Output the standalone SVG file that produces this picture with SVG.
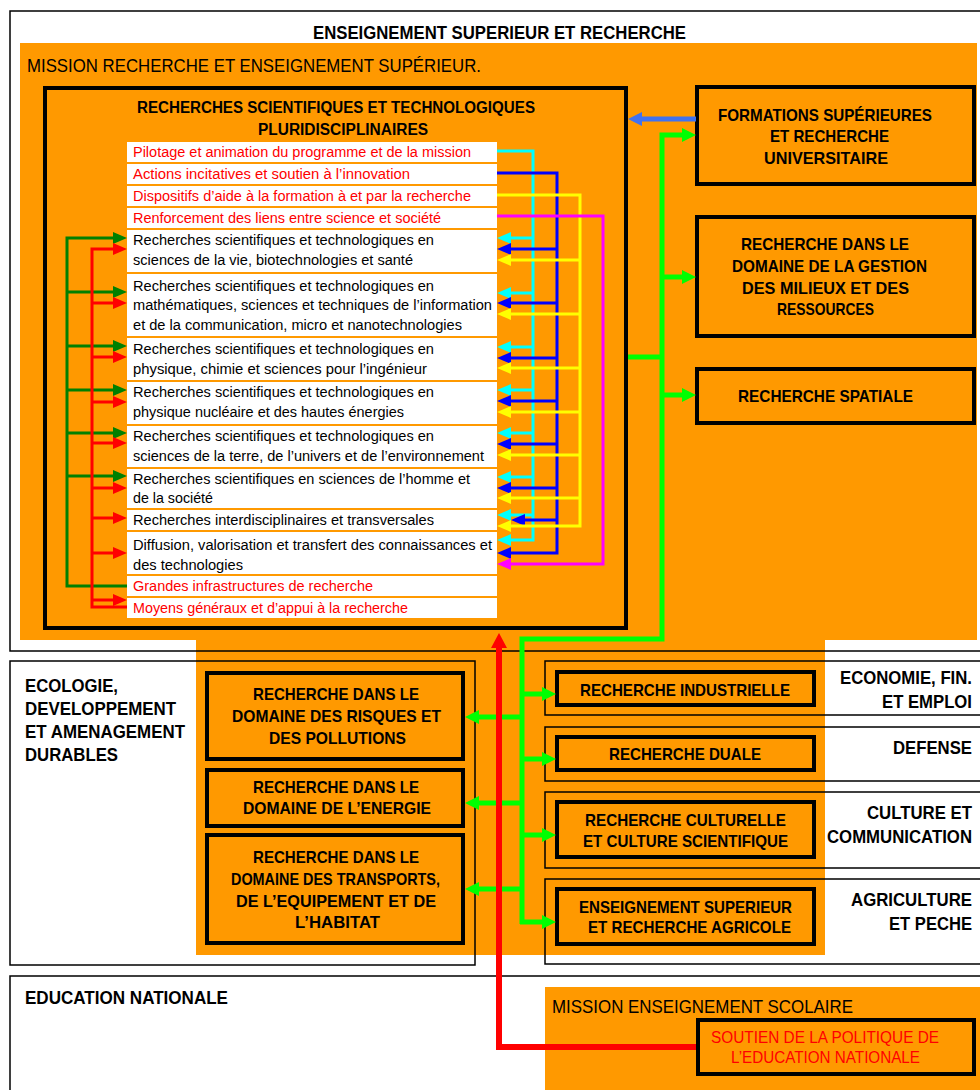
<svg xmlns="http://www.w3.org/2000/svg" width="980" height="1090" viewBox="0 0 980 1090">
  <style>
    text { font-family: "Liberation Sans", Arial, sans-serif; fill: #000; }
    .b { font-weight: bold; }
    .h1 { font-size: 18px; }
    .h2 { font-size: 19px; }
    .side { font-size: 17.5px; font-weight: bold; text-anchor: end; }
    .lbl { font-size: 17px; font-weight: bold; }
    .row-t { font-size: 14px; }
    .red { fill: #FF0000; }
    .orange { fill: #FF9900; }
    .row { fill: #FFFFFF; }
    .sec { fill: none; stroke: #000; stroke-width: 1.5; }
    .box { fill: none; stroke: #000; stroke-width: 4; }
    .c-cyan { fill: none; stroke: #00FFFF; stroke-width: 3; marker-end: url(#ah-cyan); }
    .c-blue { fill: none; stroke: #0000FF; stroke-width: 3; marker-end: url(#ah-blue); }
    .c-yel { fill: none; stroke: #FFFF00; stroke-width: 3; marker-end: url(#ah-yel); }
    .c-mag { fill: none; stroke: #FF00FF; stroke-width: 3; marker-end: url(#ah-mag); }
    .c-dg { fill: none; stroke: #008000; stroke-width: 3; marker-end: url(#ah-dg); }
    .c-red { fill: none; stroke: #FF0000; stroke-width: 3; marker-end: url(#ah-red); }
    .c-lime { fill: none; stroke: #00FF00; stroke-width: 5; marker-end: url(#ah-lime); }
    .c-lime-plain { fill: none; stroke: #00FF00; stroke-width: 5; }
    .c-royal { fill: none; stroke: #4172F0; stroke-width: 5; marker-end: url(#ah-royal); }
    .c-redbig { fill: none; stroke: #FF0000; stroke-width: 6; marker-end: url(#ah-redbig); }
  </style>
  <defs>
    <marker id="ah-cyan" viewBox="0 0 14 12" refX="0" refY="6" markerWidth="14" markerHeight="12" markerUnits="userSpaceOnUse" orient="auto"><path d="M0,0 L14,6 L0,12 z" fill="#00FFFF"/></marker>
    <marker id="ah-blue" viewBox="0 0 14 12" refX="0" refY="6" markerWidth="14" markerHeight="12" markerUnits="userSpaceOnUse" orient="auto"><path d="M0,0 L14,6 L0,12 z" fill="#0000FF"/></marker>
    <marker id="ah-yel" viewBox="0 0 14 12" refX="0" refY="6" markerWidth="14" markerHeight="12" markerUnits="userSpaceOnUse" orient="auto"><path d="M0,0 L14,6 L0,12 z" fill="#FFFF00"/></marker>
    <marker id="ah-mag" viewBox="0 0 14 12" refX="0" refY="6" markerWidth="14" markerHeight="12" markerUnits="userSpaceOnUse" orient="auto"><path d="M0,0 L14,6 L0,12 z" fill="#FF00FF"/></marker>
    <marker id="ah-dg" viewBox="0 0 14 12" refX="0" refY="6" markerWidth="14" markerHeight="12" markerUnits="userSpaceOnUse" orient="auto"><path d="M0,0 L14,6 L0,12 z" fill="#008000"/></marker>
    <marker id="ah-red" viewBox="0 0 14 12" refX="0" refY="6" markerWidth="14" markerHeight="12" markerUnits="userSpaceOnUse" orient="auto"><path d="M0,0 L14,6 L0,12 z" fill="#FF0000"/></marker>
    <marker id="ah-lime" viewBox="0 0 14 14" refX="0" refY="7" markerWidth="14" markerHeight="14" markerUnits="userSpaceOnUse" orient="auto"><path d="M0,0 L14,7 L0,14 z" fill="#00FF00"/></marker>
    <marker id="ah-royal" viewBox="0 0 14 14" refX="0" refY="7" markerWidth="14" markerHeight="14" markerUnits="userSpaceOnUse" orient="auto"><path d="M0,0 L14,7 L0,14 z" fill="#4172F0"/></marker>
    <marker id="ah-redbig" viewBox="0 0 15 16" refX="0" refY="8" markerWidth="15" markerHeight="16" markerUnits="userSpaceOnUse" orient="auto"><path d="M0,0 L15,8 L0,16 z" fill="#FF0000"/></marker>
  </defs>

  <rect x="0" y="0" width="980" height="1090" fill="#FFFFFF"/>

  <!-- orange mission areas -->
  <rect class="orange" x="20" y="43" width="957" height="597"/>
  <rect class="orange" x="196" y="640" width="629" height="315"/>
  <rect class="orange" x="545" y="987" width="435" height="103"/>

  <!-- ministry sections (open towards the right page edge) -->
  <g id="sec-esr">
    <path class="sec" d="M980,11 H10 V651 H980"/>
    <text class="b h1" x="313" y="39" textLength="373" lengthAdjust="spacingAndGlyphs">ENSEIGNEMENT SUPERIEUR ET RECHERCHE</text>
    <text class="h2" x="27" y="72" textLength="454" lengthAdjust="spacingAndGlyphs">MISSION RECHERCHE ET ENSEIGNEMENT SUPÉRIEUR.</text>
  </g>
  <g id="sec-ecologie">
    <rect class="sec" x="10" y="661" width="465" height="304"/>
    <text class="b h2" x="25" y="692" textLength="93" lengthAdjust="spacingAndGlyphs">ECOLOGIE,</text>
    <text class="b h2" x="25" y="715" textLength="151" lengthAdjust="spacingAndGlyphs">DEVELOPPEMENT</text>
    <text class="b h2" x="25" y="738" textLength="160" lengthAdjust="spacingAndGlyphs">ET AMENAGEMENT</text>
    <text class="b h2" x="25" y="761" textLength="93" lengthAdjust="spacingAndGlyphs">DURABLES</text>
  </g>
  <g id="sec-economie">
    <path class="sec" d="M980,661 H545 V715 H980"/>
    <text class="side" x="972" y="684" textLength="132" lengthAdjust="spacingAndGlyphs">ECONOMIE, FIN.</text>
    <text class="side" x="972" y="708" textLength="90" lengthAdjust="spacingAndGlyphs">ET EMPLOI</text>
  </g>
  <g id="sec-defense">
    <path class="sec" d="M980,727 H545 V781 H980"/>
    <text class="side" x="972" y="754" textLength="79" lengthAdjust="spacingAndGlyphs">DEFENSE</text>
  </g>
  <g id="sec-culture">
    <path class="sec" d="M980,792 H545 V868 H980"/>
    <text class="side" x="972" y="819" textLength="105" lengthAdjust="spacingAndGlyphs">CULTURE ET</text>
    <text class="side" x="972" y="843" textLength="145" lengthAdjust="spacingAndGlyphs">COMMUNICATION</text>
  </g>
  <g id="sec-agriculture">
    <path class="sec" d="M980,879 H545 V964 H980"/>
    <text class="side" x="972" y="906" textLength="121" lengthAdjust="spacingAndGlyphs">AGRICULTURE</text>
    <text class="side" x="972" y="930" textLength="83" lengthAdjust="spacingAndGlyphs">ET PECHE</text>
  </g>
  <g id="sec-education">
    <path class="sec" d="M980,976 H10 V1090"/>
    <text class="b h2" x="25" y="1004" textLength="203" lengthAdjust="spacingAndGlyphs">EDUCATION NATIONALE</text>
    <text class="h2" x="552" y="1013" textLength="301" lengthAdjust="spacingAndGlyphs">MISSION ENSEIGNEMENT SCOLAIRE</text>
  </g>

  <!-- main research programme with its actions -->
  <g id="n-pluri">
    <rect class="box" x="45" y="88" width="581" height="540"/>
    <text class="b" font-size="16" x="137" y="113" textLength="398" lengthAdjust="spacingAndGlyphs">RECHERCHES SCIENTIFIQUES ET TECHNOLOGIQUES</text>
    <text class="b" font-size="16" x="258" y="135" textLength="170" lengthAdjust="spacingAndGlyphs">PLURIDISCIPLINAIRES</text>
  </g>
  <g id="rows">
    <g id="a-pilotage"><rect class="row" x="127" y="142" width="370" height="20"/>
      <text class="row-t red" x="133" y="157" textLength="338" lengthAdjust="spacingAndGlyphs">Pilotage et animation du programme et de la mission</text></g>
    <g id="a-actions"><rect class="row" x="127" y="164" width="370" height="20"/>
      <text class="row-t red" x="133" y="179" textLength="277" lengthAdjust="spacingAndGlyphs">Actions incitatives et soutien à l’innovation</text></g>
    <g id="a-dispositifs"><rect class="row" x="127" y="186" width="370" height="20"/>
      <text class="row-t red" x="133" y="201" textLength="338" lengthAdjust="spacingAndGlyphs">Dispositifs d’aide à la formation à et par la recherche</text></g>
    <g id="a-renforcement"><rect class="row" x="127" y="208" width="370" height="20"/>
      <text class="row-t red" x="133" y="223" textLength="308" lengthAdjust="spacingAndGlyphs">Renforcement des liens entre science et société</text></g>
    <g id="a-vie"><rect class="row" x="127" y="230" width="370" height="42"/>
      <text class="row-t" x="133" y="245" textLength="301" lengthAdjust="spacingAndGlyphs">Recherches scientifiques et technologiques en</text>
      <text class="row-t" x="133" y="265" textLength="280" lengthAdjust="spacingAndGlyphs">sciences de la vie, biotechnologies et santé</text></g>
    <g id="a-maths"><rect class="row" x="127" y="274" width="370" height="62"/>
      <text class="row-t" x="133" y="291" textLength="301" lengthAdjust="spacingAndGlyphs">Recherches scientifiques et technologiques en</text>
      <text class="row-t" x="133" y="310" textLength="359" lengthAdjust="spacingAndGlyphs">mathématiques, sciences et techniques de l’information</text>
      <text class="row-t" x="133" y="330" textLength="329" lengthAdjust="spacingAndGlyphs">et de la communication, micro et nanotechnologies</text></g>
    <g id="a-physique"><rect class="row" x="127" y="338" width="370" height="42"/>
      <text class="row-t" x="133" y="354" textLength="301" lengthAdjust="spacingAndGlyphs">Recherches scientifiques et technologiques en</text>
      <text class="row-t" x="133" y="374" textLength="294" lengthAdjust="spacingAndGlyphs">physique, chimie et sciences pour l’ingénieur</text></g>
    <g id="a-nucleaire"><rect class="row" x="127" y="382" width="370" height="42"/>
      <text class="row-t" x="133" y="397" textLength="301" lengthAdjust="spacingAndGlyphs">Recherches scientifiques et technologiques en</text>
      <text class="row-t" x="133" y="417" textLength="271" lengthAdjust="spacingAndGlyphs">physique nucléaire et des hautes énergies</text></g>
    <g id="a-terre"><rect class="row" x="127" y="426" width="370" height="41"/>
      <text class="row-t" x="133" y="441" textLength="301" lengthAdjust="spacingAndGlyphs">Recherches scientifiques et technologiques en</text>
      <text class="row-t" x="133" y="461" textLength="351" lengthAdjust="spacingAndGlyphs">sciences de la terre, de l’univers et de l’environnement</text></g>
    <g id="a-homme"><rect class="row" x="127" y="469" width="370" height="39"/>
      <text class="row-t" x="133" y="484" textLength="337" lengthAdjust="spacingAndGlyphs">Recherches scientifiques en sciences de l’homme et</text>
      <text class="row-t" x="133" y="503" textLength="80" lengthAdjust="spacingAndGlyphs">de la société</text></g>
    <g id="a-interdisc"><rect class="row" x="127" y="510" width="370" height="20"/>
      <text class="row-t" x="133" y="525" textLength="301" lengthAdjust="spacingAndGlyphs">Recherches interdisciplinaires et transversales</text></g>
    <g id="a-diffusion"><rect class="row" x="127" y="532" width="370" height="42"/>
      <text class="row-t" x="133" y="550" textLength="359" lengthAdjust="spacingAndGlyphs">Diffusion, valorisation et transfert des connaissances et</text>
      <text class="row-t" x="133" y="570" textLength="110" lengthAdjust="spacingAndGlyphs">des technologies</text></g>
    <g id="a-infra"><rect class="row" x="127" y="576" width="370" height="20"/>
      <text class="row-t red" x="133" y="591" textLength="240" lengthAdjust="spacingAndGlyphs">Grandes infrastructures de recherche</text></g>
    <g id="a-moyens"><rect class="row" x="127" y="598" width="370" height="20"/>
      <text class="row-t red" x="133" y="613" textLength="275" lengthAdjust="spacingAndGlyphs">Moyens généraux et d’appui à la recherche</text></g>
  </g>

  <!-- other programmes -->
  <g id="n-formations">
    <rect class="box" x="697" y="87" width="277" height="97"/>
    <text class="lbl" x="718" y="121" textLength="214" lengthAdjust="spacingAndGlyphs">FORMATIONS SUPÉRIEURES</text>
    <text class="lbl" x="770" y="142" textLength="119" lengthAdjust="spacingAndGlyphs">ET RECHERCHE</text>
    <text class="lbl" x="764" y="164" textLength="124" lengthAdjust="spacingAndGlyphs">UNIVERSITAIRE</text>
  </g>
  <g id="n-gestion">
    <rect class="box" x="697" y="217" width="277" height="119"/>
    <text class="lbl" x="741" y="250" textLength="168" lengthAdjust="spacingAndGlyphs">RECHERCHE DANS LE</text>
    <text class="lbl" x="732" y="272" textLength="195" lengthAdjust="spacingAndGlyphs">DOMAINE DE LA GESTION</text>
    <text class="lbl" x="742" y="294" textLength="167" lengthAdjust="spacingAndGlyphs">DES MILIEUX ET DES</text>
    <text class="lbl" x="777" y="315" textLength="97" lengthAdjust="spacingAndGlyphs">RESSOURCES</text>
  </g>
  <g id="n-spatiale">
    <rect class="box" x="697" y="369" width="277" height="54"/>
    <text class="lbl" x="738" y="402" textLength="175" lengthAdjust="spacingAndGlyphs">RECHERCHE SPATIALE</text>
  </g>
  <g id="n-risques">
    <rect class="box" x="207" y="673" width="256" height="86"/>
    <text class="lbl" x="253" y="700" textLength="166" lengthAdjust="spacingAndGlyphs">RECHERCHE DANS LE</text>
    <text class="lbl" x="232" y="722" textLength="209" lengthAdjust="spacingAndGlyphs">DOMAINE DES RISQUES ET</text>
    <text class="lbl" x="269" y="744" textLength="137" lengthAdjust="spacingAndGlyphs">DES POLLUTIONS</text>
  </g>
  <g id="n-energie">
    <rect class="box" x="207" y="770" width="256" height="56"/>
    <text class="lbl" x="253" y="793" textLength="166" lengthAdjust="spacingAndGlyphs">RECHERCHE DANS LE</text>
    <text class="lbl" x="243" y="814" textLength="188" lengthAdjust="spacingAndGlyphs">DOMAINE DE L’ENERGIE</text>
  </g>
  <g id="n-transports">
    <rect class="box" x="207" y="835" width="256" height="108"/>
    <text class="lbl" x="253" y="863" textLength="166" lengthAdjust="spacingAndGlyphs">RECHERCHE DANS LE</text>
    <text class="lbl" x="231" y="885" textLength="209" lengthAdjust="spacingAndGlyphs">DOMAINE DES TRANSPORTS,</text>
    <text class="lbl" x="236" y="907" textLength="200" lengthAdjust="spacingAndGlyphs">DE L’EQUIPEMENT ET DE</text>
    <text class="lbl" x="295" y="928" textLength="85" lengthAdjust="spacingAndGlyphs">L’HABITAT</text>
  </g>
  <g id="n-industrielle">
    <rect class="box" x="557" y="672" width="257" height="33"/>
    <text class="lbl" x="580" y="696" textLength="210" lengthAdjust="spacingAndGlyphs">RECHERCHE INDUSTRIELLE</text>
  </g>
  <g id="n-duale">
    <rect class="box" x="557" y="737" width="257" height="33"/>
    <text class="lbl" x="609" y="760" textLength="152" lengthAdjust="spacingAndGlyphs">RECHERCHE DUALE</text>
  </g>
  <g id="n-culturelle">
    <rect class="box" x="557" y="802" width="257" height="55"/>
    <text class="lbl" x="585" y="826" textLength="201" lengthAdjust="spacingAndGlyphs">RECHERCHE CULTURELLE</text>
    <text class="lbl" x="583" y="847" textLength="205" lengthAdjust="spacingAndGlyphs">ET CULTURE SCIENTIFIQUE</text>
  </g>
  <g id="n-agricole">
    <rect class="box" x="557" y="889" width="257" height="55"/>
    <text class="lbl" x="579" y="913" textLength="213" lengthAdjust="spacingAndGlyphs">ENSEIGNEMENT SUPERIEUR</text>
    <text class="lbl" x="588" y="933" textLength="203" lengthAdjust="spacingAndGlyphs">ET RECHERCHE AGRICOLE</text>
  </g>
  <g id="n-soutien">
    <rect class="box" x="698" y="1020" width="276" height="54"/>
    <text class="red" font-size="16" x="711" y="1043" textLength="228" lengthAdjust="spacingAndGlyphs">SOUTIEN DE LA POLITIQUE DE</text>
    <text class="red" font-size="16" x="731" y="1063" textLength="189" lengthAdjust="spacingAndGlyphs">L’EDUCATION NATIONALE</text>
  </g>

  <!-- connectors -->
  <g id="connectors">
    <!-- transverse actions feeding the thematic actions -->
    <path class="c-cyan" d="M497,151 H533 V540 H511"/>
    <path class="c-cyan" d="M533,238 H511"/>
    <path class="c-cyan" d="M533,293 H511"/>
    <path class="c-cyan" d="M533,347 H511"/>
    <path class="c-cyan" d="M533,390 H511"/>
    <path class="c-cyan" d="M533,433 H511"/>
    <path class="c-cyan" d="M533,477 H511"/>
    <path class="c-cyan" d="M533,515 H511"/>

    <path class="c-blue" d="M497,173 H557 V553 H511"/>
    <path class="c-blue" d="M557,249 H511"/>
    <path class="c-blue" d="M557,303 H511"/>
    <path class="c-blue" d="M557,358 H511"/>
    <path class="c-blue" d="M557,401 H511"/>
    <path class="c-blue" d="M557,444 H511"/>
    <path class="c-blue" d="M557,488 H511"/>
    <path class="c-blue" d="M557,520 H525"/>

    <path class="c-yel" d="M497,195 H580 V526 H511"/>
    <path class="c-yel" d="M580,260 H511"/>
    <path class="c-yel" d="M580,314 H511"/>
    <path class="c-yel" d="M580,368 H511"/>
    <path class="c-yel" d="M580,412 H511"/>
    <path class="c-yel" d="M580,455 H511"/>
    <path class="c-yel" d="M580,498 H511"/>

    <path class="c-mag" d="M497,216 H603 V564 H511"/>

    <!-- support actions on the left -->
    <path class="c-dg" d="M127,586 H67 V238 H113"/>
    <path class="c-dg" d="M67,292 H113"/>
    <path class="c-dg" d="M67,346 H113"/>
    <path class="c-dg" d="M67,390 H113"/>
    <path class="c-dg" d="M67,433 H113"/>
    <path class="c-dg" d="M67,476 H113"/>

    <path class="c-red" d="M127,607 H92 V249 H113"/>
    <path class="c-red" d="M92,303 H113"/>
    <path class="c-red" d="M92,357 H113"/>
    <path class="c-red" d="M92,402 H113"/>
    <path class="c-red" d="M92,443 H113"/>
    <path class="c-red" d="M92,488 H113"/>
    <path class="c-red" d="M92,518 H113"/>
    <path class="c-red" d="M92,553 H113"/>
    <path class="c-red" d="M92,600 H113"/>

    <!-- links between programmes -->
    <path class="c-royal" d="M696,119 H642"/>
    <path class="c-lime-plain" d="M628,357 H662"/>
    <path class="c-lime" d="M522,924 V639 H662 V135 H682"/>
    <path class="c-lime" d="M662,277 H682"/>
    <path class="c-lime" d="M662,395 H682"/>
    <path class="c-lime" d="M522,694 H542"/>
    <path class="c-lime" d="M522,759 H542"/>
    <path class="c-lime" d="M522,835 H542"/>
    <path class="c-lime" d="M520,922 H542"/>
    <path class="c-lime" d="M522,717 H479"/>
    <path class="c-lime" d="M522,803 H479"/>
    <path class="c-lime" d="M522,889 H479"/>

    <path class="c-redbig" d="M696,1047 H499 V648"/>
  </g>
</svg>
